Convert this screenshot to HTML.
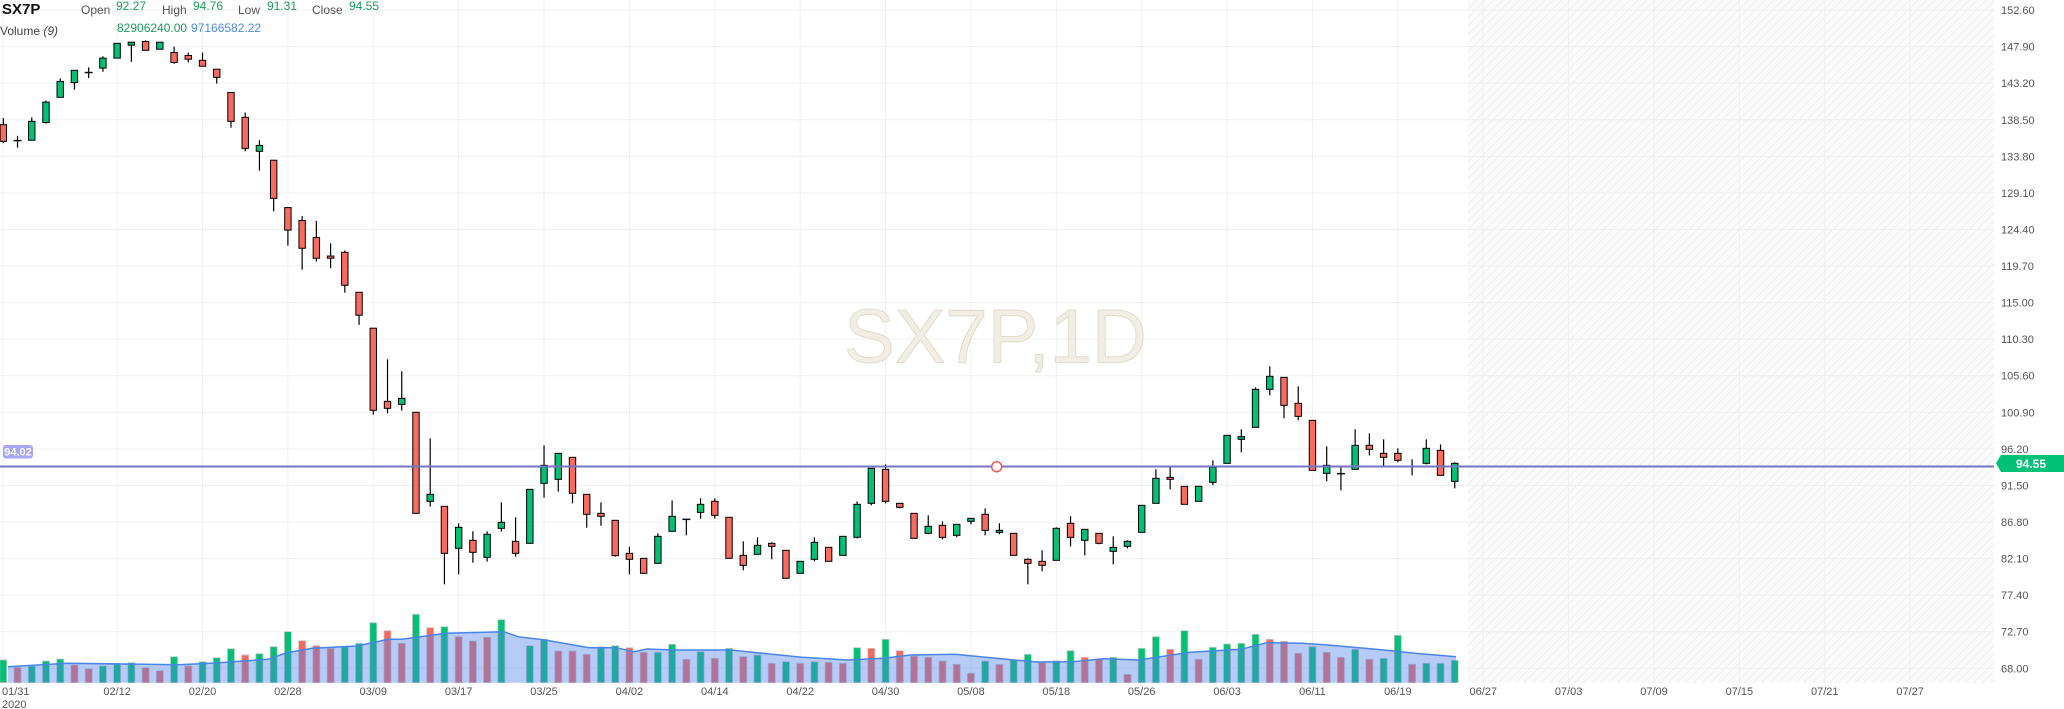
<!DOCTYPE html>
<html><head><meta charset="utf-8"><style>
html,body{margin:0;padding:0;background:#fff;width:2064px;height:709px;overflow:hidden}
svg{display:block;font-family:"Liberation Sans",Arial,sans-serif}
</style></head><body>
<svg id="s" width="2064" height="709" viewBox="0 0 2064 709" xmlns="http://www.w3.org/2000/svg">
<defs>
<pattern id="h" width="6" height="6" patternUnits="userSpaceOnUse" patternTransform="rotate(45)">
<rect width="6" height="6" fill="#fbfbfb"/><line x1="0" y1="0" x2="0" y2="6" stroke="#ebebeb" stroke-width="1.5"/>
</pattern>
</defs>
<rect x="1468" y="0" width="526" height="683" fill="url(#h)"/>
<g id="grid"></g>
<text x="844" y="362.7" font-size="76" fill="#f1eee5" stroke="#dcd7c4" stroke-width="0.8">SX7P,1D</text>
<g id="vol"></g>
<g id="cand"></g>
<line x1="0" y1="466.5" x2="1994" y2="466.5" stroke="#7676c2" stroke-width="2"/>
<circle cx="996.7" cy="466.7" r="5" fill="#fff" stroke="#f55" stroke-width="1.5"/>
<rect x="3" y="445" width="30" height="13.5" rx="3" fill="#a9a5f5"/>
<text x="18" y="455.5" font-size="11" font-weight="bold" fill="#fff" text-anchor="middle">94.02</text>
<polygon points="1996,463.3 2001,455 2064,455 2064,472 2001,472" fill="#00c176"/>
<text x="2031" y="468" font-size="12" font-weight="bold" fill="#fff" text-anchor="middle">94.55</text>
<g font-size="12">
<text x="2" y="14" font-size="15" font-weight="bold" fill="#111">SX7P</text>
<text x="81" y="14" fill="#555">Open</text><text x="116" y="10" fill="#1a9c5a">92.27</text>
<text x="162" y="14" fill="#555">High</text><text x="193" y="10" fill="#1a9c5a">94.76</text>
<text x="238" y="14" fill="#555">Low</text><text x="267" y="10" fill="#1a9c5a">91.31</text>
<text x="312" y="14" fill="#555">Close</text><text x="349" y="10" fill="#1a9c5a">94.55</text>
<text x="0" y="35" fill="#444">Volume <tspan font-style="italic">(9)</tspan></text>
<text x="117" y="32" fill="#1a9c5a">82906240.00</text>
<text x="191" y="32" fill="#4a8ae8">97166582.22</text>
</g>
<g id="lbl" font-size="11" fill="#555"></g>
</svg>
<script>
var NS="http://www.w3.org/2000/svg";
function el(p,t,a,txt){var e=document.createElementNS(NS,t);for(var k in a)e.setAttribute(k,a[k]);if(txt!=null)e.textContent=txt;p.appendChild(e);return e;}
var grid=document.getElementById('grid'),vol=document.getElementById('vol'),cand=document.getElementById('cand'),lbl=document.getElementById('lbl');
function cx(i){return 3.3+14.23*i;}
// horizontal grid + price labels
var prices=["152.60","147.90","143.20","138.50","133.80","129.10","124.40","119.70","115.00","110.30","105.60","100.90","96.20","91.50","86.80","82.10","77.40","72.70","68.00"];
for(var k=0;k<19;k++){var y=668.3-36.57*(18-k);el(grid,'line',{x1:0,y1:y,x2:1994,y2:y,stroke:'#f0f0f0','stroke-width':1});
el(lbl,'text',{x:2001,y:y+4},prices[k]);}
// vertical grid + dates
var dates=["02/12","02/20","02/28","03/09","03/17","03/25","04/02","04/14","04/22","04/30","05/08","05/18","05/26","06/03","06/11","06/19","06/27","07/03","07/09","07/15","07/21","07/27"];
el(grid,'line',{x1:3,y1:0,x2:3,y2:683,stroke:'#f0f0f0'});
el(lbl,'text',{x:2,y:695},"01/31");el(lbl,'text',{x:2,y:708},"2020");
for(var k=0;k<22;k++){var x=cx(8+6*k);el(grid,'line',{x1:x,y1:0,x2:x,y2:683,stroke:'#f0f0f0'});
el(lbl,'text',{x:x,y:695,'text-anchor':'middle'},dates[k]);}
// candles
var segs=[[20,2.703,[
"r 283 328 265 333","d 326 326 313 345","g 274 325 263 325","g 222 277 218 280","g 166 209 158 209","g 136 169 136 188","d 142 142 128 157","g 103 130 98 140","g 63 103 63 103","g 60 68 60 113","r 58 82 55 82","g 60 79 60 79","r 88 115 72 118","r 96 106 88 115","r 109 125 88 125","r 133 155 133 172","r 196 274 196 291","r 263 347 250 355","g 339 355 325 407","r 379 482 379 517","r 507 568 507 610","r 542 617 530 675","r 588 644 543 653","r 638 644 604 671","r 628 717 623 737","r 736 798 736 824","r 833 1055 833 1067"]],
[300,3,["r 304 325 178 340","g 295 313 214 332","r 337 640 337 640","g 583 604 415 620","r 619 760 619 853","g 682 745 670 823","r 721 757 694 788","g 703 772 694 785","g 667 685 607 695","r 724 760 652 770","g 568 730 568 730","g 496 550 436 593","g 460 538 460 575","r 472 580 472 610","r 583 643 583 683","r 640 649 607 677","r 661 767 661 770","r 760 778 740 823","r 775 820 775 820","g 709 790 700 790","g 649 694 601 694","d 658 658 658 706","g 613 637 595 656","r 604 646 595 656","r 652 775 652 775","r 766 796 724 811"]],
[420,3,["g 376 403 352 403","r 370 379 367 418","r 391 475 391 475","g 424 460 424 460","g 367 418 352 424","r 382 424 382 424","g 349 406 349 406","g 253 352 244 355","g 145 250 145 256","r 148 244 133 250","r 250 262 250 265","r 280 355 280 355","g 319 340 286 343","r 316 352 304 358","g 313 346 313 352","g 295 304 295 313","r 283 331 265 346","g 331 337 310 343","r 340 406 340 406","r 418 430 415 493","r 424 436 391 454","g 325 421 322 421","r 310 352 289 379","g 328 361 328 406","r 340 370 340 373","g 382 394 349 433"]],
[340,3,["g 604 619 601 625","g 496 577 496 577","g 415 490 388 490","r 412 418 382 448","r 439 493 439 493","g 439 484 439 484","g 382 427 361 436","g 286 370 286 370","g 290 298 268 337","g 148 262 142 262","g 109 148 79 166","r 112 196 112 235","r 190 229 139 241","r 241 391 241 391","g 376 400 319 424","d 401 401 382 451","g 316 388 268 388","r 316 328 280 346","r 340 352 298 379","r 340 361 325 367","d 379 379 358 406","g 325 370 298 373","r 331 406 313 406","g 370 424 367 445"]]];
var i=0;
segs.forEach(function(sg){sg[2].forEach(function(s){var p=s.split(' ');var f=function(v){return sg[0]+(+v)/sg[1];};
var x=cx(i),bt=f(p[1]),bb=f(p[2]),wt=f(p[3]),wb=f(p[4]);
el(cand,'line',{x1:x,y1:wt,x2:x,y2:wb,stroke:'#000','stroke-width':1.2});
if(p[0]=='d'){el(cand,'line',{x1:x-4,y1:bt,x2:x+4,y2:bt,stroke:'#111','stroke-width':1.5});}
else{el(cand,'rect',{x:x-3.2,y:bt,width:6.4,height:Math.max(1,bb-bt),fill:p[0]=='g'?'#00c176':'#fa6b5f',stroke:'#000','stroke-width':1});}
i++;});});
// volume
var vt=[[660,'g'],[667.3,'r'],[666,'g'],[661,'g'],[659,'g'],[665,'r'],[668.7,'r'],[666,'g'],[663.7,'g'],[662.7,'g'],[667.7,'r'],[670.7,'r'],[656.7,'g'],[666,'r'],[661.7,'g'],[657.7,'g'],[648.7,'g'],[655,'r'],[653.7,'g'],[646.7,'g'],[631.7,'g'],[640.7,'r'],[645.7,'r'],[648.3,'r'],[646.7,'g'],[643.3,'g'],[622.7,'g'],[630.7,'r'],[643.3,'r'],[614.3,'g'],[627.7,'r'],[626.7,'g'],[636.7,'r'],[641,'r'],[637.3,'r'],[619.7,'g'],[683,'g'],[645.7,'g'],[639.3,'g'],[651,'r'],[651,'r'],[654.3,'r'],[646.7,'g'],[645.7,'g'],[647.7,'r'],[652.3,'r'],[652.3,'g'],[644.3,'g'],[659.3,'r'],
[651.7,'g'],[658.3,'r'],[648.3,'g'],[656.7,'r'],[655,'g'],[663.3,'r'],[661.7,'g'],[663.3,'r'],[661.7,'g'],[662.3,'r'],[663.3,'r'],[647.7,'g'],[648.3,'r'],[639.3,'g'],[650.7,'r'],[656,'r'],[657.3,'r'],[661,'r'],[664.3,'r'],[673.3,'r'],[661,'g'],[664.3,'r'],[660,'g'],[654.3,'g'],[662.7,'r'],[660.7,'g'],[650.7,'g'],[657.3,'r'],[659,'r'],[657.3,'g'],[674.3,'r'],[648.3,'g'],[636.7,'g'],[649.3,'r'],[630.7,'g'],[659.3,'r'],[647.3,'g'],[644,'g'],[643.3,'g'],[634.3,'g'],[639.3,'r'],[641.3,'r'],[653.3,'r'],[646.7,'g'],[652.3,'r'],[657.3,'r'],[649.3,'g'],[659.3,'r'],[658.3,'g'],[635.3,'g'],[664.3,'r'],[663.3,'g'],[663.3,'g'],[660.3,'g']];
vt.forEach(function(v,j){if(v[0]>=682)return;el(vol,'rect',{x:cx(j)-3.5,y:v[0],width:7,height:682.7-v[0],fill:v[1]=='g'?'#00c176':'#f6685e',stroke:'#c8c8c8','stroke-width':0.8});});
// MA line points (x actual, y actual)
var ma=[[8,666.7],[67,663.3],[179,664.7],[210,663.3],[268,659.3],[286,653],[312,648.3],[357,646],[388,639.3],[402,639.3],[446,633.3],[504,631.7],[518,636.7],[545,640],[589,647.7],[616,647.7],[634,651.7],[647,649],[674,650],[680,650],[731,650],[757,652.7],[802,657.3],[848,660],[884,658.3],[910,655],[955,654.3],[996,658.3],[1037,662],[1073,661.7],[1103,658.7],[1139,660],[1165,656],[1190,652.3],[1241,649.3],[1267,642.7],[1302,643.3],[1328,645],[1384,650],[1415,653.3],[1456,656.7]];
var d="M"+ma.map(function(p){return p[0]+","+p[1];}).join(" L");
el(vol,'path',{d:d+" L1456,682.7 L8,682.7 Z",fill:'rgba(80,130,230,0.42)'});
el(vol,'path',{d:d,fill:'none',stroke:'#4a85e8','stroke-width':1.5});
</script>
</body></html>
